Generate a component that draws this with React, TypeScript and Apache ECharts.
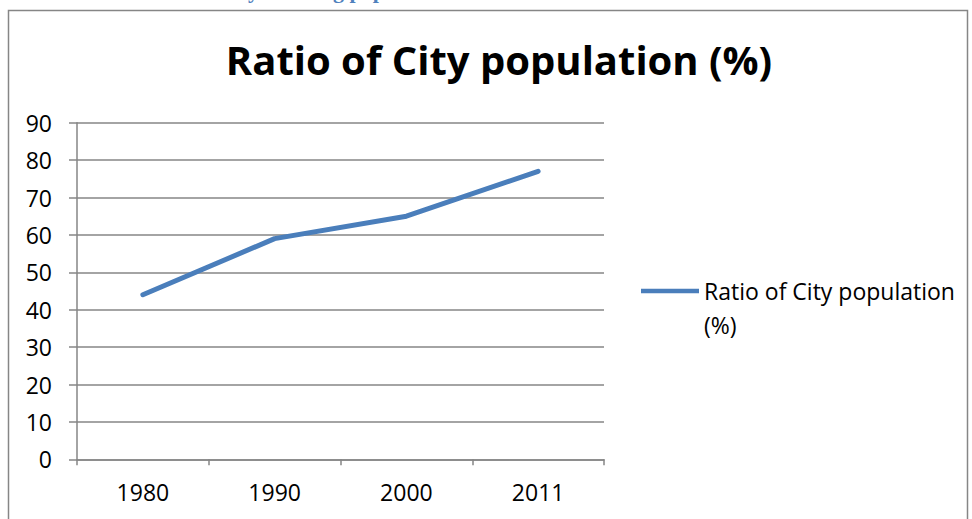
import React, { useEffect, useRef } from "react";
import * as echarts from "echarts";

const categories = ["1980", "1990", "2000", "2011"];
const ratioValues = [44, 59, 65, 77];
const seriesName = "Ratio of City population (%)";
const titleText = "Ratio of City population (%)";
const topCaption = "Ratio of City dwelling population";

export default function App() {
  const ref = useRef<HTMLDivElement>(null);
  useEffect(() => {
    if (!ref.current) return;
    const chart = echarts.init(ref.current, null, { renderer: "svg" });
    const font = "'Open Sans', Lato, sans-serif";
    chart.setOption({
      animation: false,
      backgroundColor: "#ffffff",
      title: {
        text: titleText,
        left: 494,
        top: 34,
        textAlign: "center",
        textStyle: { fontFamily: font, fontWeight: "bold", fontSize: 40, color: "#000" },
      },
      legend: {
        left: 636,
        top: 235,
        icon: "rect",
        itemWidth: 58,
        itemHeight: 4.5,
        formatter: () => "\u00a0\nRatio of City population\n(%)",
        textStyle: {
          fontFamily: font,
          fontSize: 23,
          color: "#000",
          lineHeight: 34,
        },
        data: [seriesName],
      },
      grid: { left: 77, right: 368, top: 122.7, bottom: 59.7, containLabel: false },
      xAxis: {
        type: "category",
        data: categories,
        boundaryGap: true,
        axisLine: { show: true, lineStyle: { color: "#868686", width: 1.5 } },
        axisTick: { show: true, length: 6, lineStyle: { color: "#868686", width: 1.5 } },
        axisLabel: { fontFamily: font, fontSize: 23, color: "#000", margin: 21 },
        splitLine: { show: false },
      },
      yAxis: {
        type: "value",
        min: 0,
        max: 90,
        interval: 10,
        axisLine: { show: true, lineStyle: { color: "#868686", width: 1.5 } },
        axisTick: { show: true, length: 8, lineStyle: { color: "#868686", width: 1.5 } },
        axisLabel: { fontFamily: font, fontSize: 23, color: "#000", margin: 25 },
        splitLine: { show: true, lineStyle: { color: "#868686", width: 1.5 } },
      },
      series: [
        {
          name: seriesName,
          type: "line",
          data: ratioValues,
          showSymbol: false,
          symbol: "none",
          itemStyle: { color: "#4a7ebb" },
          lineStyle: { color: "#4a7ebb", width: 5, cap: "round", join: "round" },
        },
      ],
      graphic: [
        {
          type: "rect",
          shape: { x: 8.5, y: 10.5, width: 959, height: 530 },
          style: { fill: "none", stroke: "#868686", lineWidth: 1.5 },
          silent: true,
        },
        {
          type: "text",
          x: 138,
          y: -10,
          style: {
            text: topCaption,
            fontFamily: "'Liberation Serif', 'DejaVu Serif', serif",
            fontWeight: "bold",
            fontSize: 22,
            fill: "#4f81bd",
            verticalAlign: "middle",
          },
          silent: true,
        },
      ],
    });
    return () => chart.dispose();
  }, []);
  return (
    <div
      ref={ref}
      style={{ position: "fixed", left: 0, top: 0, width: 972, height: 519 }}
    />
  );
}
